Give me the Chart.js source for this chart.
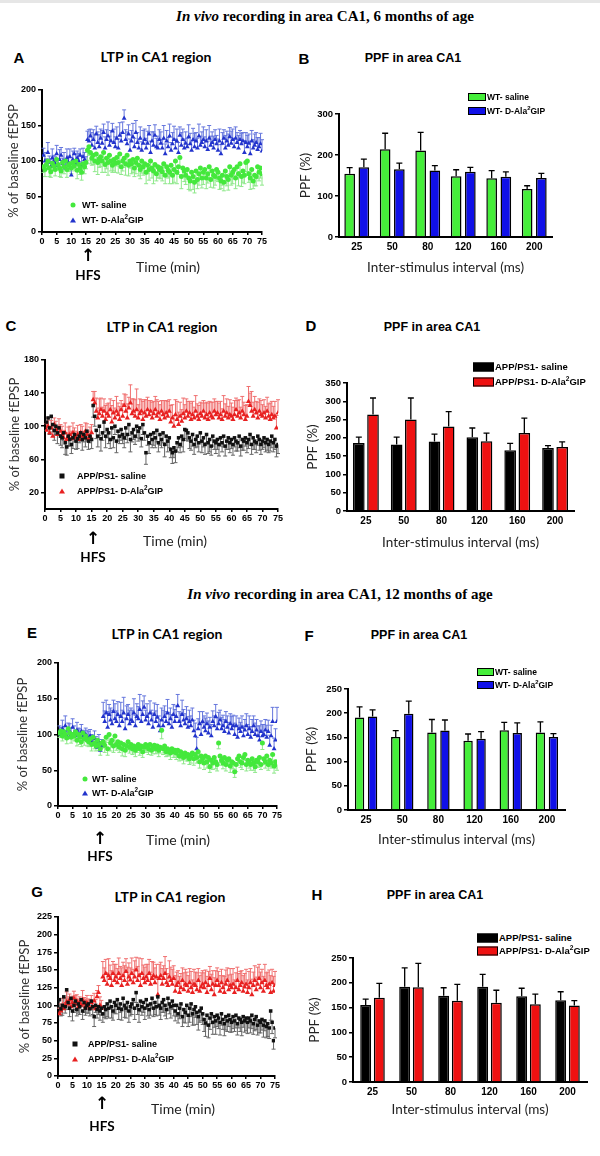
<!DOCTYPE html>
<html>
<head>
<meta charset="utf-8">
<script src="https://cdn.jsdelivr.net/npm/chart.js@4.4.1/dist/chart.umd.min.js"></script>
<style>
body { margin: 0; background: #fff; }
#fig { position: relative; width: 600px; height: 1156px; overflow: hidden; background: #fff; font-family: 'Liberation Sans', Arial, sans-serif; color: #000; }
#fig canvas { position: absolute; }
.strip { position: absolute; left: 0; top: 0; width: 600px; height: 3px; background: #e6e6e6; }
.t { position: absolute; white-space: nowrap; transform: translate(-50%, -50%); line-height: 1; }
.l { position: absolute; white-space: nowrap; transform: translateY(-50%); line-height: 1; font-weight: bold; font-size: 9px; }
.sec { font-family: 'Liberation Serif', 'Times New Roman', serif; font-weight: bold; font-size: 15px; }
.letter { font-weight: bold; font-size: 15px; }
.ltpT { font-family: Lato, sans-serif; font-weight: bold; font-size: 14px; }
.ppfT { font-weight: bold; font-size: 12.5px; }
.time { font-family: Lato, sans-serif; font-size: 14px; color: #222; }
.hfs { font-family: Lato, sans-serif; font-weight: bold; font-size: 13.5px; }
.arrow { font-family: 'DejaVu Sans', sans-serif; font-weight: bold; font-size: 17px; }
.mk { position: absolute; transform: translate(-50%, -50%); }
.circ { width: 5px; height: 5px; border-radius: 50%; }
.sq { width: 5px; height: 5px; }
.tri { width: 0; height: 0; border-left: 3px solid transparent; border-right: 3px solid transparent; border-bottom: 5px solid; }
.box { position: absolute; border: 1.5px solid #000; box-sizing: border-box; transform: translateY(-50%); }
sup { font-size: 70%; line-height: 0; }
</style>
</head>
<body>
<div id="fig">
  <div class="strip"></div>

  <div class="t sec" style="left:325px;top:16px;"><i>In vivo</i> recording in area CA1, 6 months of age</div>
  <div class="t sec" style="left:340px;top:594px;"><i>In vivo</i> recording in area CA1, 12 months of age</div>

  <!-- panel letters -->
  <div class="t letter" style="left:19px;top:57px;">A</div>
  <div class="t letter" style="left:304px;top:58px;">B</div>
  <div class="t letter" style="left:11px;top:325px;">C</div>
  <div class="t letter" style="left:311px;top:325px;">D</div>
  <div class="t letter" style="left:32px;top:632px;">E</div>
  <div class="t letter" style="left:309px;top:635px;">F</div>
  <div class="t letter" style="left:37px;top:891px;">G</div>
  <div class="t letter" style="left:317px;top:894px;">H</div>

  <!-- panel titles -->
  <div class="t ltpT" style="left:156px;top:57px;">LTP in CA1 region</div>
  <div class="t ppfT" style="left:413px;top:58px;">PPF in area CA1</div>
  <div class="t ltpT" style="left:162px;top:327px;">LTP in CA1 region</div>
  <div class="t ppfT" style="left:432px;top:327px;">PPF in area CA1</div>
  <div class="t ltpT" style="left:167px;top:634px;">LTP in CA1 region</div>
  <div class="t ppfT" style="left:419px;top:635px;">PPF in area CA1</div>
  <div class="t ltpT" style="left:170px;top:897px;">LTP in CA1 region</div>
  <div class="t ppfT" style="left:435px;top:895px;">PPF in area CA1</div>

  <canvas id="chartA" width="270" height="170" style="left:0px;top:80px;"></canvas>
  <canvas id="chartB" width="265" height="178" style="left:295px;top:100px;"></canvas>
  <canvas id="chartC" width="286" height="177" style="left:0px;top:350px;"></canvas>
  <canvas id="chartD" width="282" height="184" style="left:300px;top:369px;"></canvas>
  <canvas id="chartE" width="285" height="171" style="left:0px;top:653px;"></canvas>
  <canvas id="chartF" width="273" height="175" style="left:300px;top:675px;"></canvas>
  <canvas id="chartG" width="283" height="187" style="left:0px;top:907px;"></canvas>
  <canvas id="chartH" width="295" height="176" style="left:300px;top:944px;"></canvas>

  <!-- LTP legends -->
  <div class="mk circ" style="left:73px;top:205px;background:#44e83c;"></div>
  <div class="l" style="left:82px;top:205px;">WT- saline</div>
  <div class="mk tri" style="left:73px;top:220px;color:#2233cc;"></div>
  <div class="l" style="left:82px;top:220px;">WT- D-Ala<sup>2</sup>GIP</div>

  <div class="mk sq" style="left:62px;top:476px;background:#111;"></div>
  <div class="l" style="left:77px;top:476px;">APP/PS1- saline</div>
  <div class="mk tri" style="left:62px;top:491px;color:#e82020;"></div>
  <div class="l" style="left:77px;top:491px;">APP/PS1- D-Ala<sup>2</sup>GIP</div>

  <div class="mk circ" style="left:85px;top:779px;background:#44e83c;"></div>
  <div class="l" style="left:92px;top:779px;">WT- saline</div>
  <div class="mk tri" style="left:85px;top:793px;color:#2233cc;"></div>
  <div class="l" style="left:92px;top:793px;">WT- D-Ala<sup>2</sup>GIP</div>

  <div class="mk sq" style="left:75px;top:1044px;background:#111;"></div>
  <div class="l" style="left:88px;top:1044px;">APP/PS1- saline</div>
  <div class="mk tri" style="left:75px;top:1059px;color:#e82020;"></div>
  <div class="l" style="left:88px;top:1059px;">APP/PS1- D-Ala<sup>2</sup>GIP</div>

  <!-- PPF legends -->
  <div class="box" style="left:468px;top:97px;width:18px;height:8px;background:#45ee3a;"></div>
  <div class="l" style="left:487px;top:97px;font-size:8.5px;">WT- saline</div>
  <div class="box" style="left:468px;top:111px;width:18px;height:8px;background:#1010e8;"></div>
  <div class="l" style="left:487px;top:111px;font-size:8.5px;">WT- D-Ala<sup>2</sup>GIP</div>

  <div class="box" style="left:473px;top:367px;width:21px;height:9px;background:#000;"></div>
  <div class="l" style="left:495px;top:367px;font-size:9.5px;">APP/PS1- saline</div>
  <div class="box" style="left:473px;top:382px;width:21px;height:9px;background:#ee1111;"></div>
  <div class="l" style="left:495px;top:382px;font-size:9.5px;">APP/PS1- D-Ala<sup>2</sup>GIP</div>

  <div class="box" style="left:477px;top:672px;width:17px;height:8px;background:#45ee3a;"></div>
  <div class="l" style="left:495px;top:672px;font-size:8.5px;">WT- saline</div>
  <div class="box" style="left:477px;top:685px;width:17px;height:8px;background:#1010e8;"></div>
  <div class="l" style="left:495px;top:685px;font-size:8.5px;">WT- D-Ala<sup>2</sup>GIP</div>

  <div class="box" style="left:477px;top:938px;width:21px;height:9px;background:#000;"></div>
  <div class="l" style="left:499px;top:938px;font-size:9.5px;">APP/PS1- saline</div>
  <div class="box" style="left:477px;top:951px;width:21px;height:9px;background:#ee1111;"></div>
  <div class="l" style="left:499px;top:951px;font-size:9.5px;">APP/PS1- D-Ala<sup>2</sup>GIP</div>

  <!-- time titles, HFS arrows -->
  <div class="t time" style="left:168px;top:267px;">Time (min)</div>
  <div class="t arrow" style="left:88px;top:255px;">↑</div>
  <div class="t hfs" style="left:88px;top:276px;">HFS</div>

  <div class="t time" style="left:175px;top:541px;">Time (min)</div>
  <div class="t arrow" style="left:93px;top:538px;">↑</div>
  <div class="t hfs" style="left:93px;top:558px;">HFS</div>

  <div class="t time" style="left:178px;top:840px;">Time (min)</div>
  <div class="t arrow" style="left:100px;top:838px;">↑</div>
  <div class="t hfs" style="left:100px;top:857px;">HFS</div>

  <div class="t time" style="left:183px;top:1109px;">Time (min)</div>
  <div class="t arrow" style="left:102px;top:1103px;">↑</div>
  <div class="t hfs" style="left:102px;top:1127px;">HFS</div>
</div>

<script>
// ---- dados ----
// tempo de registro (min), uma amostra a cada 30 s
const minutes = [];
for (let i = 1; i <= 150; i++) minutes.push(i * 0.5);

// A: 6 meses, WT
const aSaline = [
  92, 88, 95, 100, 90, 85, 97, 93, 88, 102,
  95, 90, 86, 98, 92, 100, 88, 94, 96, 90,
  98, 93, 100, 87, 95, 90, 84, 96, 92, 98,
  115, 120, 112, 104, 108, 100, 110, 98, 103, 106,
  100, 112, 95, 104, 98, 108, 100, 94, 102, 97,
  105, 98, 110, 92, 100, 104, 96, 108, 94, 100,
  96, 102, 90, 98, 104, 94, 88, 100, 92, 96,
  84, 94, 88, 100, 90, 86, 95, 82, 92, 88,
  90, 85, 96, 80, 92, 87, 84, 94, 80, 88,
  100, 84, 92, 105, 78, 90, 86, 80, 88, 76,
  72, 84, 78, 70, 86, 74, 82, 90, 76, 84,
  88, 76, 82, 92, 74, 86, 80, 78, 88, 84,
  76, 72, 80, 70, 86, 78, 74, 92, 80, 84,
  88, 76, 92, 82, 96, 78, 86, 80, 98, 100,
  82, 76, 88, 72, 80, 78, 92, 84, 90, 82
];
const aSalineErr = [
  8, 10, 7, 9, 12, 8, 10, 6, 9, 11, 8, 12, 9, 7, 10, 8, 11, 9, 10, 8,
  9, 7, 10, 12, 8, 9, 11, 8, 10, 9,
  14, 12, 16, 10, 13, 15, 11, 17, 12, 14, 16, 13, 11, 15, 18, 12, 14, 10, 16, 13,
  12, 15, 17, 11, 14, 13, 16, 12, 15, 10, 14, 18, 12, 16, 11, 15, 13, 17, 12, 14,
  16, 12, 15, 11, 14, 18, 13, 10, 16, 12, 15, 13, 17, 12, 14, 11, 16, 15, 12, 18,
  13, 16, 11, 14, 17, 12, 15, 13, 10, 16, 14, 12, 18, 15, 11, 13, 16, 12, 14, 17,
  12, 15, 13, 16, 11, 14, 18, 12, 15, 13, 16, 11, 14, 12, 17, 13, 15, 10, 14, 16,
  13, 15, 12, 17, 11, 14, 16, 12, 13, 15, 12, 16, 14, 11, 15, 13, 17, 12, 14, 16
];
const aGip = [
  108, 100, 95, 112, 98, 92, 104, 100, 96, 110,
  94, 102, 108, 96, 100, 90, 104, 98, 106, 80,
  102, 110, 96, 104, 100, 108, 94, 106, 102, 98,
  130, 128, 135, 122, 130, 118, 138, 126, 120, 132,
  125, 140, 118, 130, 135, 122, 128, 142, 126, 120,
  132, 118, 136, 128, 140, 160, 130, 124, 138, 115,
  128, 134, 120, 140, 126, 118, 132, 115, 125, 130,
  118, 125, 138, 112, 128, 122, 136, 120, 118, 130,
  125, 118, 132, 110, 128, 120, 135, 115, 124, 130,
  118, 128, 112, 136, 122, 130, 118, 125, 120, 134,
  124, 115, 130, 120, 128, 118, 135, 122, 126, 130,
  120, 128, 116, 132, 122, 126, 118, 130, 124, 115,
  128, 110, 125, 132, 118, 128, 122, 134, 125, 130,
  120, 132, 126, 118, 130, 124, 128, 112, 126, 120,
  125, 110, 128, 118, 122, 126, 116, 120, 124, 114
];
const aGipErr = [
  10, 12, 8, 14, 9, 11, 13, 8, 10, 12, 9, 14, 11, 8, 12, 10, 13, 9, 11, 10,
  12, 8, 14, 10, 11, 9, 13, 12, 10, 8,
  12, 16, 10, 18, 14, 20, 11, 15, 17, 13, 18, 12, 16, 14, 20, 13, 15, 11, 19, 14,
  16, 13, 18, 12, 15, 12, 14, 17, 13, 16, 15, 19, 12, 17, 14, 13, 16, 12, 18, 15,
  14, 17, 12, 16, 13, 19, 15, 12, 17, 14, 16, 12, 18, 14, 15, 13, 17, 11, 16, 19,
  13, 17, 14, 12, 18, 15, 13, 16, 12, 17, 15, 13, 16, 19, 12, 14, 17, 13, 15, 18,
  14, 16, 12, 18, 13, 15, 17, 14, 12, 16, 17, 13, 15, 12, 18, 14, 16, 13, 17, 15,
  12, 16, 14, 18, 13, 15, 12, 17, 14, 16, 13, 18, 15, 12, 16, 14, 17, 13, 15, 16
];

// C: 6 meses, APP/PS1
const cTicks = [20, 60, 100, 140, 180];
const cSaline = [
  105, 110, 98, 112, 102, 95, 100, 92, 98, 88,
  86, 92, 80, 75, 88, 84, 78, 86, 90, 82,
  85, 88, 92, 84, 90, 86, 94, 82, 88, 84,
  125, 112, 95, 88, 100, 85, 92, 105, 88, 96,
  92, 84, 98, 86, 100, 82, 94, 88, 96, 90,
  86, 98, 90, 102, 84, 92, 96, 88, 100, 94,
  98, 85, 102, 92, 68, 88, 80, 90, 84, 92,
  86, 95, 80, 90, 84, 92, 78, 88, 82, 86,
  72, 68, 74, 70, 80, 86, 78, 88, 84, 96,
  95, 92, 86, 82, 90, 78, 84, 88, 80, 92,
  82, 86, 78, 90, 80, 84, 76, 88, 82, 80,
  84, 78, 86, 80, 88, 76, 82, 86, 80, 84,
  78, 86, 82, 80, 88, 76, 84, 82, 86, 80,
  84, 90, 78, 86, 82, 80, 88, 84, 78, 82,
  86, 80, 84, 78, 82, 88, 80, 84, 76, 78
];
const cSalineErr = [
  10, 12, 8, 14, 9, 12, 10, 13, 8, 11, 12, 9, 14, 10, 12, 8, 11, 13, 9, 10,
  12, 8, 10, 13, 9, 11, 12, 10, 8, 11,
  14, 12, 10, 13, 11, 15, 9, 12, 14, 10, 13, 11, 15, 12, 10, 14, 12, 9, 13, 11,
  12, 14, 10, 13, 15, 11, 12, 10, 14, 12, 13, 10, 12, 9, 14, 11, 13, 12, 10, 15,
  12, 14, 11, 13, 10, 12, 15, 11, 13, 12, 10, 13, 12, 14, 11, 12, 10, 13, 15, 11,
  12, 10, 13, 11, 14, 12, 10, 13, 11, 12, 14, 11, 12, 10, 13, 15, 11, 12, 10, 13,
  12, 14, 10, 11, 13, 12, 10, 14, 12, 11, 13, 11, 12, 10, 14, 12, 13, 11, 10, 12,
  11, 13, 12, 14, 10, 12, 11, 13, 12, 10, 12, 11, 13, 10, 12, 14, 11, 12, 13, 11
];
const cGip = [
  95, 100, 92, 98, 88, 102, 96, 90, 98, 94,
  90, 86, 92, 84, 88, 90, 85, 92, 88, 86,
  90, 84, 92, 88, 86, 94, 90, 85, 88, 92,
  132, 128, 118, 110, 115, 120, 112, 118, 108, 115,
  112, 120, 105, 116, 110, 118, 114, 108, 120, 112,
  125, 118, 110, 122, 128, 115, 118, 112, 120, 110,
  115, 118, 108, 116, 112, 120, 114, 118, 110, 115,
  120, 112, 116, 108, 118, 114, 110, 116, 112, 118,
  105, 110, 100, 114, 108, 102, 112, 106, 115, 110,
  118, 112, 116, 108, 114, 110, 118, 112, 108, 115,
  112, 118, 110, 114, 108, 116, 112, 110, 118, 114,
  116, 110, 114, 108, 118, 112, 116, 110, 114, 112,
  108, 114, 120, 112, 116, 110, 118, 114, 108, 112,
  130, 125, 118, 112, 120, 116, 110, 118, 114, 112,
  116, 110, 118, 112, 108, 114, 110, 112, 98, 116
];
const cGipErr = [
  8, 10, 7, 9, 12, 8, 10, 9, 11, 8, 10, 9, 12, 8, 11, 10, 9, 12, 10, 8,
  11, 9, 10, 12, 8, 10, 13, 9, 11, 10,
  10, 14, 16, 12, 18, 14, 11, 15, 17, 12, 16, 13, 20, 15, 12, 18, 14, 16, 11, 15,
  14, 20, 17, 13, 22, 18, 15, 20, 25, 16, 18, 14, 22, 16, 20, 15, 17, 13, 19, 15,
  16, 20, 14, 18, 13, 17, 21, 15, 18, 14, 20, 16, 13, 18, 22, 15, 17, 14, 19, 16,
  15, 18, 14, 20, 16, 13, 19, 15, 17, 14, 16, 13, 18, 15, 20, 14, 17, 19, 15, 16,
  14, 18, 16, 13, 19, 15, 17, 14, 18, 16, 15, 17, 14, 19, 16, 13, 18, 15, 17, 14,
  18, 15, 24, 17, 16, 14, 19, 15, 17, 14, 16, 14, 17, 15, 20, 16, 14, 18, 15, 16
];

// E: 12 meses, WT
const eSaline = [
  102, 105, 98, 104, 100, 95, 108, 102, 96, 100,
  98, 104, 92, 100, 96, 90, 102, 94, 98, 92,
  90, 94, 86, 96, 88, 84, 92, 86, 80, 88,
  90, 85, 96, 80, 100, 88, 92, 84, 98, 86,
  90, 82, 88, 80, 86, 78, 84, 90, 82, 86,
  80, 84, 78, 82, 86, 80, 84, 76, 82, 86,
  84, 80, 86, 78, 82, 85, 80, 84, 78, 82,
  106, 80, 84, 76, 80, 78, 74, 80, 76, 78,
  74, 78, 70, 76, 72, 68, 74, 70, 72, 66,
  70, 74, 66, 72, 68, 76, 62, 70, 66, 60,
  70, 62, 68, 55, 64, 60, 68, 62, 58, 88,
  70, 64, 60, 68, 58, 64, 66, 56, 62, 60,
  48, 58, 66, 70, 62, 60, 68, 72, 58, 64,
  62, 58, 66, 60, 55, 64, 62, 68, 58, 88,
  66, 62, 70, 58, 64, 60, 72, 56, 62, 58
];
const eSalineErr = [
  6, 8, 7, 9, 6, 8, 10, 7, 8, 6, 7, 9, 8, 6, 10, 7, 8, 9, 6, 8,
  7, 8, 9, 6, 8, 7, 10, 8, 9, 7,
  8, 10, 7, 9, 8, 11, 7, 9, 10, 8, 9, 7, 8, 10, 8, 9, 7, 11, 8, 9,
  8, 10, 9, 7, 8, 9, 10, 8, 7, 9, 9, 8, 10, 7, 9, 8, 7, 10, 9, 8,
  12, 8, 9, 7, 10, 8, 9, 7, 8, 10, 9, 8, 7, 10, 8, 9, 8, 7, 9, 8,
  10, 8, 9, 7, 8, 10, 9, 8, 7, 9, 8, 9, 10, 8, 7, 9, 8, 10, 9, 8,
  9, 7, 8, 10, 9, 8, 7, 9, 10, 8, 8, 10, 9, 7, 8, 9, 10, 8, 9, 7,
  9, 8, 7, 10, 8, 9, 8, 10, 7, 9, 8, 9, 10, 8, 9, 7, 8, 10, 9, 8
];
const eGip = [
  104, 100, 108, 102, 112, 98, 106, 104, 100, 110,
  102, 98, 106, 100, 96, 104, 98, 94, 100, 96,
  92, 98, 90, 86, 94, 88, 82, 90, 78, 84,
  125, 118, 130, 110, 128, 120, 115, 132, 122, 118,
  128, 112, 125, 118, 130, 108, 122, 128, 115, 120,
  118, 130, 112, 125, 122, 135, 118, 128, 138, 120,
  125, 115, 130, 120, 110, 128, 118, 124, 112, 105,
  120, 112, 125, 118, 130, 115, 122, 110, 128, 118,
  125, 140, 118, 112, 128, 120, 115, 122, 110, 118,
  112, 120, 105, 98, 80, 108, 115, 100, 118, 110,
  105, 115, 102, 110, 98, 118, 112, 125, 108, 115,
  120, 108, 112, 104, 118, 110, 102, 115, 108, 112,
  100, 112, 96, 108, 104, 110, 98, 106, 112, 100,
  108, 96, 104, 112, 100, 106, 98, 92, 104, 98,
  100, 106, 96, 104, 85, 98, 118, 80, 92, 118
];
const eGipErr = [
  8, 10, 12, 9, 14, 8, 10, 11, 9, 12, 10, 8, 11, 9, 12, 10, 8, 11, 9, 10,
  12, 9, 10, 8, 11, 9, 12, 10, 11, 9,
  20, 15, 18, 22, 14, 17, 19, 16, 21, 15, 18, 14, 20, 16, 22, 15, 18, 14, 19, 17,
  16, 20, 15, 18, 17, 21, 16, 19, 16, 14, 18, 15, 17, 14, 20, 16, 15, 18, 14, 16,
  17, 22, 15, 14, 19, 16, 15, 18, 14, 17, 15, 16, 14, 18, 20, 15, 14, 17, 15, 16,
  14, 17, 15, 18, 16, 14, 17, 15, 14, 16, 18, 15, 17, 14, 16, 15, 14, 17, 15, 16,
  14, 16, 15, 17, 14, 16, 15, 14, 17, 15, 16, 14, 17, 15, 13, 16, 14, 15, 17, 14,
  18, 15, 17, 14, 16, 15, 14, 20, 15, 16, 14, 15, 17, 16, 14, 15, 20, 15, 16, 20
];

// G: 12 meses, APP/PS1
const gSaline = [
  108, 95, 100, 112, 98, 122, 104, 96, 110, 92,
  100, 106, 94, 102, 98, 108, 92, 104, 96, 100,
  102, 95, 106, 98, 84, 100, 94, 98, 92, 96,
  88, 98, 94, 102, 96, 106, 98, 92, 104, 100,
  108, 96, 102, 94, 110, 100, 96, 104, 92, 98,
  102, 108, 96, 118, 100, 94, 106, 98, 104, 96,
  108, 100, 94, 102, 110, 96, 104, 98, 112, 100,
  96, 104, 108, 100, 94, 110, 102, 98, 106, 100,
  92, 100, 88, 96, 102, 84, 94, 90, 100, 86,
  96, 102, 88, 94, 98, 90, 84, 92, 96, 88,
  80, 75, 86, 72, 82, 88, 76, 84, 78, 86,
  82, 76, 88, 80, 74, 84, 78, 86, 80, 76,
  84, 78, 86, 74, 82, 80, 76, 84, 78, 82,
  76, 82, 78, 86, 74, 80, 84, 72, 78, 76,
  80, 72, 78, 70, 74, 68, 92, 76, 50, 68
];
const gSalineErr = [
  12, 10, 14, 11, 9, 13, 10, 12, 11, 14, 10, 12, 9, 13, 11, 10, 12, 14, 10, 11,
  13, 10, 12, 11, 14, 10, 12, 11, 13, 10,
  12, 15, 13, 18, 14, 11, 16, 13, 15, 12, 14, 16, 12, 15, 13, 17, 14, 12, 16, 13,
  15, 12, 16, 14, 13, 18, 15, 12, 14, 16, 13, 15, 12, 16, 14, 12, 17, 13, 15, 14,
  16, 14, 18, 15, 13, 17, 14, 16, 12, 15, 14, 16, 13, 15, 17, 14, 18, 15, 13, 16,
  20, 18, 16, 22, 15, 17, 19, 16, 18, 15, 17, 19, 15, 18, 16, 14, 17, 15, 19, 16,
  15, 18, 16, 14, 17, 19, 15, 16, 18, 14, 17, 15, 18, 16, 14, 17, 19, 15, 16, 18,
  16, 14, 17, 19, 15, 16, 18, 14, 17, 15, 15, 17, 14, 16, 18, 15, 13, 16, 12, 14
];
const gGip = [
  88, 92, 98, 95, 100, 105, 102, 108, 98, 104,
  110, 102, 106, 98, 104, 100, 108, 102, 98, 104,
  100, 96, 104, 98, 106, 95, 112, 118, 100, 96,
  140, 135, 145, 130, 142, 138, 128, 145, 135, 140,
  132, 145, 138, 128, 142, 135, 148, 130, 140, 136,
  145, 132, 140, 150, 135, 142, 128, 145, 138, 132,
  140, 135, 145, 130, 138, 142, 132, 140, 115, 138,
  142, 130, 138, 145, 132, 128, 140, 135, 130, 138,
  120, 128, 132, 118, 125, 135, 122, 130, 128, 120,
  132, 125, 118, 130, 128, 122, 135, 120, 126, 130,
  125, 132, 118, 128, 138, 122, 130, 115, 128, 135,
  128, 120, 132, 125, 118, 130, 135, 122, 128, 125,
  130, 118, 125, 135, 122, 128, 132, 120, 126, 130,
  118, 125, 132, 115, 128, 135, 122, 130, 138, 125,
  132, 120, 135, 128, 125, 130, 118, 132, 120, 128
];
const gGipErr = [
  8, 10, 12, 9, 11, 14, 10, 8, 12, 9, 10, 12, 9, 11, 8, 10, 13, 9, 11, 10,
  9, 12, 10, 8, 11, 13, 9, 10, 12, 11,
  22, 18, 20, 16, 24, 19, 21, 17, 23, 18, 20, 22, 17, 25, 19, 21, 18, 24, 20, 17,
  22, 19, 23, 18, 20, 25, 17, 21, 19, 22, 18, 23, 20, 17, 24, 19, 21, 18, 22, 20,
  19, 22, 18, 24, 20, 17, 23, 19, 21, 18, 22, 19, 17, 23, 20, 18, 24, 21, 19, 22,
  20, 23, 18, 21, 19, 24, 17, 22, 20, 19, 21, 18, 23, 20, 17, 22, 19, 24, 21, 18,
  20, 22, 19, 17, 23, 20, 18, 21, 24, 19, 22, 18, 21, 19, 23, 20, 17, 22, 19, 21,
  18, 23, 20, 22, 19, 21, 18, 24, 20, 22, 19, 21, 23, 18, 22, 20, 24, 19, 21, 20
];

// PPF (barras)
const intervals = ['25', '50', '80', '120', '160', '200'];
const bSaline = [154, 214, 211, 148, 143, 117];
const bSalineErr = [15, 39, 44, 16, 19, 8];
const bGip = [170, 165, 162, 159, 147, 144];
const bGipErr = [20, 15, 12, 11, 12, 11];

const dSaline = [186, 182, 190, 202, 166, 172];
const dSalineErr = [16, 20, 20, 25, 19, 7];
const dGip = [264, 250, 231, 191, 213, 175];
const dGipErr = [45, 59, 41, 22, 41, 14];

const fSaline = [191, 151, 160, 143, 165, 160];
const fSalineErr = [22, 13, 27, 14, 16, 22];
const fGip = [193, 199, 164, 147, 159, 151];
const fGipErr = [14, 26, 22, 15, 21, 7];

const hSaline = [155, 192, 174, 192, 173, 165];
const hSalineErr = [12, 38, 16, 25, 16, 17];
const hGip = [170, 191, 164, 160, 157, 154];
const hGipErr = [29, 48, 33, 25, 20, 10];

// ---- cores ----
const GREEN = '#44e83c', BLUE = '#2233cc', RED = '#e82020', BLACK = '#111';

// barras de erro (um lado só, como no GraphPad)
const errorBars = {
  id: 'errorBars',
  beforeDatasetsDraw(chart) {
    const ctx = chart.ctx;
    chart.data.datasets.forEach((ds, i) => {
      if (!ds.err) return;
      const meta = chart.getDatasetMeta(i);
      const ys = chart.scales[meta.yAxisID];
      ctx.save();
      ctx.strokeStyle = ds.errColor;
      ctx.lineWidth = ds.errWidth || 1;
      meta.data.forEach((el, j) => {
        const raw = ds.data[j];
        const v = typeof raw === 'object' ? raw.y : raw;
        const y0 = ys.getPixelForValue(v);
        const y1 = ys.getPixelForValue(v + ds.errDir * ds.err[j]);
        const cap = ds.errCap || 2;
        ctx.beginPath();
        ctx.moveTo(el.x, y0);
        ctx.lineTo(el.x, y1);
        ctx.moveTo(el.x - cap, y1);
        ctx.lineTo(el.x + cap, y1);
        ctx.stroke();
      });
      ctx.restore();
    });
  }
};

const tickFont = { family: 'Liberation Sans', weight: 'bold', size: 9 };
const axisLine = { color: '#000', width: 2 };

function ltpChart(id, series, yOpt, g) {
  new Chart(document.getElementById(id), {
    type: 'scatter',
    data: {
      datasets: series.map(s => ({
        label: s.label,
        data: minutes.map((t, i) => ({ x: t, y: s.values[i] })),
        err: s.err, errDir: s.dir, errColor: s.errColor,
        pointStyle: s.shape, pointRadius: s.r,
        backgroundColor: s.color, borderColor: s.color, borderWidth: 0
      }))
    },
    options: {
      responsive: false,
      animation: false,
      layout: { padding: { top: 10, right: 8, left: 0, bottom: 0 } },
      plugins: { legend: { display: false }, tooltip: { enabled: false } },
      scales: {
        x: {
          type: 'linear', min: 0, max: 75,
          ticks: { stepSize: 5, autoSkip: false, maxRotation: 0, padding: 1, color: '#000', font: tickFont },
          grid: { drawOnChartArea: false, tickLength: 3, color: '#000', lineWidth: 1.5 },
          border: axisLine,
          afterFit: sc => { sc.height = 18; }
        },
        y: {
          min: yOpt.min, max: yOpt.max,
          ticks: { stepSize: yOpt.step, padding: 2, color: '#000', font: tickFont },
          afterBuildTicks: yOpt.ticks ? (sc => { sc.ticks = yOpt.ticks.map(v => ({ value: v })); }) : undefined,
          grid: { drawOnChartArea: false, tickLength: 4, color: '#000', lineWidth: 1.5 },
          border: axisLine,
          title: {
            display: true, text: '% of baseline fEPSP', color: '#333',
            font: { family: 'Lato', size: 13 }, padding: { top: g.titlePad, bottom: 0 }
          },
          afterFit: sc => { sc.width = g.yw; }
        }
      }
    },
    plugins: [errorBars]
  });
}

function ppfChart(id, series, yOpt, g) {
  new Chart(document.getElementById(id), {
    type: 'bar',
    data: {
      labels: intervals,
      datasets: series.map(s => ({
        label: s.label,
        data: s.values,
        err: s.err, errDir: 1, errColor: '#000', errWidth: 1.3, errCap: 3,
        backgroundColor: s.color, borderColor: '#000', borderWidth: 1.5,
        categoryPercentage: g.cat, barPercentage: g.bar
      }))
    },
    options: {
      responsive: false,
      animation: false,
      layout: { padding: { top: 14, right: 8, left: 0, bottom: 0 } },
      plugins: { legend: { display: false }, tooltip: { enabled: false } },
      scales: {
        x: {
          ticks: { padding: 4, color: '#000', font: { family: 'Liberation Sans', weight: 'bold', size: 10 } },
          grid: { display: false, drawTicks: false },
          border: axisLine,
          title: {
            display: true, text: 'Inter-stimulus interval (ms)', color: '#222',
            font: { family: 'Lato', size: 13.5 }, padding: { top: 0, bottom: 2 }
          },
          afterFit: sc => { sc.height = g.xh; }
        },
        y: {
          min: 0, max: yOpt.max,
          ticks: { stepSize: yOpt.step, padding: 2, color: '#000', font: { family: 'Liberation Sans', weight: 'bold', size: 9.5 } },
          grid: { drawOnChartArea: false, tickLength: 4, color: '#000', lineWidth: 1.5 },
          border: axisLine,
          title: {
            display: true, text: 'PPF (%)', color: '#222',
            font: { family: 'Lato', size: 13.5 }, padding: { top: g.titlePad, bottom: 0 }
          },
          afterFit: sc => { sc.width = g.yw; }
        }
      }
    },
    plugins: [errorBars]
  });
}

// ---- gráficos ----
ltpChart('chartA', [
  { label: 'WT- saline', values: aSaline, err: aSalineErr, dir: -1, color: GREEN, errColor: '#8ee88a', shape: 'circle', r: 2.5 },
  { label: 'WT- D-Ala2GIP', values: aGip, err: aGipErr, dir: 1, color: BLUE, errColor: '#6677dd', shape: 'triangle', r: 2.8 }
], { min: 0, max: 200, step: 50 }, { yw: 42, titlePad: 6 });

ltpChart('chartC', [
  { label: 'APP/PS1- saline', values: cSaline, err: cSalineErr, dir: -1, color: BLACK, errColor: '#666', shape: 'rect', r: 2.5 },
  { label: 'APP/PS1- D-Ala2GIP', values: cGip, err: cGipErr, dir: 1, color: RED, errColor: '#f07070', shape: 'triangle', r: 3 }
], { min: 0, max: 180, ticks: cTicks }, { yw: 45, titlePad: 7 });

ltpChart('chartE', [
  { label: 'WT- saline', values: eSaline, err: eSalineErr, dir: -1, color: GREEN, errColor: '#8ee88a', shape: 'circle', r: 2.5 },
  { label: 'WT- D-Ala2GIP', values: eGip, err: eGipErr, dir: 1, color: BLUE, errColor: '#6677dd', shape: 'triangle', r: 2.8 }
], { min: 0, max: 200, step: 50 }, { yw: 58, titlePad: 15 });

ltpChart('chartG', [
  { label: 'APP/PS1- saline', values: gSaline, err: gSalineErr, dir: -1, color: BLACK, errColor: '#666', shape: 'rect', r: 2.5 },
  { label: 'APP/PS1- D-Ala2GIP', values: gGip, err: gGipErr, dir: 1, color: RED, errColor: '#f07070', shape: 'triangle', r: 3 }
], { min: 0, max: 225, step: 25 }, { yw: 58, titlePad: 17 });

ppfChart('chartB', [
  { label: 'WT- saline', values: bSaline, err: bSalineErr, color: '#45ee3a' },
  { label: 'WT- D-Ala2GIP', values: bGip, err: bGipErr, color: '#1010e8' }
], { max: 300, step: 100 }, { yw: 44, xh: 41, titlePad: 3, cat: 0.8, bar: 0.75 });

ppfChart('chartD', [
  { label: 'APP/PS1- saline', values: dSaline, err: dSalineErr, color: '#000' },
  { label: 'APP/PS1- D-Ala2GIP', values: dGip, err: dGipErr, color: '#ee1111' }
], { max: 350, step: 50 }, { yw: 47, xh: 42, titlePad: 5, cat: 0.75, bar: 0.82 });

ppfChart('chartF', [
  { label: 'WT- saline', values: fSaline, err: fSalineErr, color: '#45ee3a' },
  { label: 'WT- D-Ala2GIP', values: fGip, err: fGipErr, color: '#1010e8' }
], { max: 250, step: 50 }, { yw: 48, xh: 40, titlePad: 4, cat: 0.72, bar: 0.72 });

ppfChart('chartH', [
  { label: 'APP/PS1- saline', values: hSaline, err: hSalineErr, color: '#000' },
  { label: 'APP/PS1- D-Ala2GIP', values: hGip, err: hGipErr, color: '#ee1111' }
], { max: 250, step: 50 }, { yw: 53, xh: 38, titlePad: 7, cat: 0.7, bar: 0.8 });
</script>
</body>
</html>
